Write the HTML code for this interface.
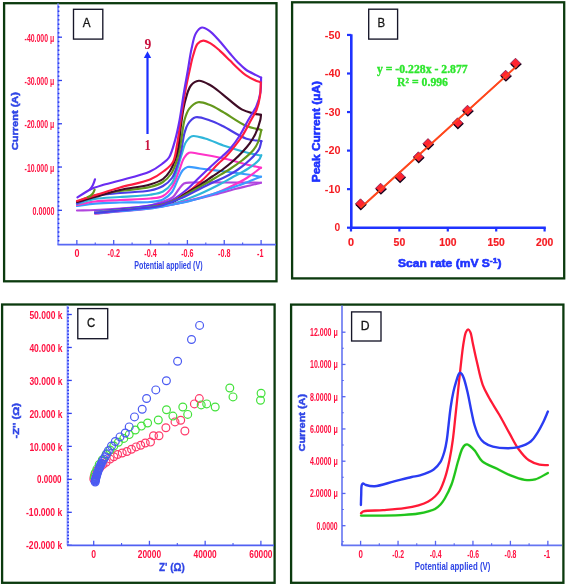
<!DOCTYPE html><html><head><meta charset="utf-8"><style>html,body{margin:0;padding:0;background:#fff;width:567px;height:586px;overflow:hidden}svg{display:block;will-change:transform}</style></head><body>
<svg width="567" height="586" viewBox="0 0 567 586">
<rect x="0" y="0" width="567" height="586" fill="#fff"/>
<rect x="4.10" y="3.20" width="272.40" height="278.10" fill="none" stroke="#0b3a0e" stroke-width="2.3"/>
<rect x="292.10" y="2.30" width="272.10" height="276.10" fill="none" stroke="#0b3a0e" stroke-width="2.3"/>
<rect x="2.10" y="304.50" width="272.50" height="278.30" fill="none" stroke="#0b3a0e" stroke-width="2.3"/>
<rect x="291.10" y="304.60" width="272.30" height="278.20" fill="none" stroke="#0b3a0e" stroke-width="2.3"/>
<line x1="58.10" y1="3.50" x2="58.10" y2="244.70" stroke="#8e9bff" stroke-width="2"/>
<rect x="57.80" y="6.19" width="1.6" height="1.4" fill="#2030f0"/>
<rect x="57.80" y="10.52" width="1.6" height="1.4" fill="#2030f0"/>
<rect x="57.80" y="14.85" width="1.6" height="1.4" fill="#2030f0"/>
<rect x="57.80" y="19.18" width="1.6" height="1.4" fill="#2030f0"/>
<rect x="57.80" y="23.51" width="1.6" height="1.4" fill="#2030f0"/>
<rect x="57.80" y="27.84" width="1.6" height="1.4" fill="#2030f0"/>
<rect x="57.80" y="32.17" width="1.6" height="1.4" fill="#2030f0"/>
<rect x="57.80" y="36.50" width="1.6" height="1.4" fill="#2030f0"/>
<rect x="57.80" y="40.83" width="1.6" height="1.4" fill="#2030f0"/>
<rect x="57.80" y="45.16" width="1.6" height="1.4" fill="#2030f0"/>
<rect x="57.80" y="49.49" width="1.6" height="1.4" fill="#2030f0"/>
<rect x="57.80" y="53.82" width="1.6" height="1.4" fill="#2030f0"/>
<rect x="57.80" y="58.15" width="1.6" height="1.4" fill="#2030f0"/>
<rect x="57.80" y="62.48" width="1.6" height="1.4" fill="#2030f0"/>
<rect x="57.80" y="66.81" width="1.6" height="1.4" fill="#2030f0"/>
<rect x="57.80" y="71.14" width="1.6" height="1.4" fill="#2030f0"/>
<rect x="57.80" y="75.47" width="1.6" height="1.4" fill="#2030f0"/>
<rect x="57.80" y="79.80" width="1.6" height="1.4" fill="#2030f0"/>
<rect x="57.80" y="84.13" width="1.6" height="1.4" fill="#2030f0"/>
<rect x="57.80" y="88.46" width="1.6" height="1.4" fill="#2030f0"/>
<rect x="57.80" y="92.79" width="1.6" height="1.4" fill="#2030f0"/>
<rect x="57.80" y="97.12" width="1.6" height="1.4" fill="#2030f0"/>
<rect x="57.80" y="101.45" width="1.6" height="1.4" fill="#2030f0"/>
<rect x="57.80" y="105.78" width="1.6" height="1.4" fill="#2030f0"/>
<rect x="57.80" y="110.11" width="1.6" height="1.4" fill="#2030f0"/>
<rect x="57.80" y="114.44" width="1.6" height="1.4" fill="#2030f0"/>
<rect x="57.80" y="118.77" width="1.6" height="1.4" fill="#2030f0"/>
<rect x="57.80" y="123.10" width="1.6" height="1.4" fill="#2030f0"/>
<rect x="57.80" y="127.43" width="1.6" height="1.4" fill="#2030f0"/>
<rect x="57.80" y="131.76" width="1.6" height="1.4" fill="#2030f0"/>
<rect x="57.80" y="136.09" width="1.6" height="1.4" fill="#2030f0"/>
<rect x="57.80" y="140.42" width="1.6" height="1.4" fill="#2030f0"/>
<rect x="57.80" y="144.75" width="1.6" height="1.4" fill="#2030f0"/>
<rect x="57.80" y="149.08" width="1.6" height="1.4" fill="#2030f0"/>
<rect x="57.80" y="153.41" width="1.6" height="1.4" fill="#2030f0"/>
<rect x="57.80" y="157.74" width="1.6" height="1.4" fill="#2030f0"/>
<rect x="57.80" y="162.07" width="1.6" height="1.4" fill="#2030f0"/>
<rect x="57.80" y="166.40" width="1.6" height="1.4" fill="#2030f0"/>
<rect x="57.80" y="170.73" width="1.6" height="1.4" fill="#2030f0"/>
<rect x="57.80" y="175.06" width="1.6" height="1.4" fill="#2030f0"/>
<rect x="57.80" y="179.39" width="1.6" height="1.4" fill="#2030f0"/>
<rect x="57.80" y="183.72" width="1.6" height="1.4" fill="#2030f0"/>
<rect x="57.80" y="188.05" width="1.6" height="1.4" fill="#2030f0"/>
<rect x="57.80" y="192.38" width="1.6" height="1.4" fill="#2030f0"/>
<rect x="57.80" y="196.71" width="1.6" height="1.4" fill="#2030f0"/>
<rect x="57.80" y="201.04" width="1.6" height="1.4" fill="#2030f0"/>
<rect x="57.80" y="205.37" width="1.6" height="1.4" fill="#2030f0"/>
<rect x="57.80" y="209.70" width="1.6" height="1.4" fill="#2030f0"/>
<rect x="57.80" y="214.03" width="1.6" height="1.4" fill="#2030f0"/>
<rect x="57.80" y="218.36" width="1.6" height="1.4" fill="#2030f0"/>
<rect x="57.80" y="222.69" width="1.6" height="1.4" fill="#2030f0"/>
<rect x="57.80" y="227.02" width="1.6" height="1.4" fill="#2030f0"/>
<rect x="57.80" y="231.35" width="1.6" height="1.4" fill="#2030f0"/>
<rect x="57.80" y="235.68" width="1.6" height="1.4" fill="#2030f0"/>
<rect x="57.80" y="240.01" width="1.6" height="1.4" fill="#2030f0"/>
<line x1="58.10" y1="37.20" x2="62" y2="37.20" stroke="#3040f0" stroke-width="1.3"/>
<line x1="58.10" y1="80.48" x2="62" y2="80.48" stroke="#3040f0" stroke-width="1.3"/>
<line x1="58.10" y1="123.76" x2="62" y2="123.76" stroke="#3040f0" stroke-width="1.3"/>
<line x1="58.10" y1="167.04" x2="62" y2="167.04" stroke="#3040f0" stroke-width="1.3"/>
<line x1="58.10" y1="210.32" x2="62" y2="210.32" stroke="#3040f0" stroke-width="1.3"/>
<line x1="57.5" y1="244.70" x2="276" y2="244.70" stroke="#5868f4" stroke-width="1.8"/>
<line x1="76.85" y1="244.70" x2="76.85" y2="240" stroke="#4a5af0" stroke-width="1.3"/>
<line x1="95.25" y1="244.70" x2="95.25" y2="242.5" stroke="#4a5af0" stroke-width="1.1"/>
<line x1="113.70" y1="244.70" x2="113.70" y2="240" stroke="#4a5af0" stroke-width="1.3"/>
<line x1="132.10" y1="244.70" x2="132.10" y2="242.5" stroke="#4a5af0" stroke-width="1.1"/>
<line x1="150.55" y1="244.70" x2="150.55" y2="240" stroke="#4a5af0" stroke-width="1.3"/>
<line x1="168.95" y1="244.70" x2="168.95" y2="242.5" stroke="#4a5af0" stroke-width="1.1"/>
<line x1="187.40" y1="244.70" x2="187.40" y2="240" stroke="#4a5af0" stroke-width="1.3"/>
<line x1="205.80" y1="244.70" x2="205.80" y2="242.5" stroke="#4a5af0" stroke-width="1.1"/>
<line x1="224.25" y1="244.70" x2="224.25" y2="240" stroke="#4a5af0" stroke-width="1.3"/>
<line x1="242.65" y1="244.70" x2="242.65" y2="242.5" stroke="#4a5af0" stroke-width="1.1"/>
<line x1="261.10" y1="244.70" x2="261.10" y2="240" stroke="#4a5af0" stroke-width="1.3"/>
<text x="24.60" y="41.70" font-size="11.50" font-weight="bold" font-family='"Liberation Sans", sans-serif' fill="#ff1040" textLength="29.60" lengthAdjust="spacingAndGlyphs">-40.000 μ</text>
<text x="24.60" y="84.98" font-size="11.50" font-weight="bold" font-family='"Liberation Sans", sans-serif' fill="#ff1040" textLength="29.60" lengthAdjust="spacingAndGlyphs">-30.000 μ</text>
<text x="24.60" y="128.26" font-size="11.50" font-weight="bold" font-family='"Liberation Sans", sans-serif' fill="#ff1040" textLength="29.60" lengthAdjust="spacingAndGlyphs">-20.000 μ</text>
<text x="24.60" y="171.54" font-size="11.50" font-weight="bold" font-family='"Liberation Sans", sans-serif' fill="#ff1040" textLength="29.60" lengthAdjust="spacingAndGlyphs">-10.000 μ</text>
<text x="32.60" y="214.90" font-size="11.50" font-weight="bold" font-family='"Liberation Sans", sans-serif' fill="#ff1040" textLength="21.80" lengthAdjust="spacingAndGlyphs">0.0000</text>
<text x="74.45" y="256.90" font-size="11.00" font-weight="bold" font-family='"Liberation Sans", sans-serif' fill="#ff1040" textLength="5.00" lengthAdjust="spacingAndGlyphs">0</text>
<text x="107.50" y="256.90" font-size="11.00" font-weight="bold" font-family='"Liberation Sans", sans-serif' fill="#ff1040" textLength="12.40" lengthAdjust="spacingAndGlyphs">-0.2</text>
<text x="144.35" y="256.90" font-size="11.00" font-weight="bold" font-family='"Liberation Sans", sans-serif' fill="#ff1040" textLength="12.40" lengthAdjust="spacingAndGlyphs">-0.4</text>
<text x="181.20" y="256.90" font-size="11.00" font-weight="bold" font-family='"Liberation Sans", sans-serif' fill="#ff1040" textLength="12.40" lengthAdjust="spacingAndGlyphs">-0.6</text>
<text x="218.05" y="256.90" font-size="11.00" font-weight="bold" font-family='"Liberation Sans", sans-serif' fill="#ff1040" textLength="12.40" lengthAdjust="spacingAndGlyphs">-0.8</text>
<text x="257.10" y="256.90" font-size="11.00" font-weight="bold" font-family='"Liberation Sans", sans-serif' fill="#ff1040" textLength="6.40" lengthAdjust="spacingAndGlyphs">-1</text>
<text x="134.30" y="268.90" font-size="11.20" font-weight="bold" font-family='"Liberation Sans", sans-serif' fill="#2f45e6" textLength="68.30" lengthAdjust="spacingAndGlyphs">Potential applied (V)</text>
<text transform="translate(18.10,150.20) rotate(-90)" x="0" y="0" font-size="9.90" font-weight="bold" font-family='"Liberation Sans", sans-serif' fill="#2f45e6" stroke="#2f45e6" stroke-width="0.50" textLength="58.20" lengthAdjust="spacingAndGlyphs">Current (A)</text>
<rect x="73.50" y="9.30" width="29.30" height="29.80" fill="#fff" stroke="#161628" stroke-width="1.35"/>
<text x="82.80" y="26.90" font-size="12.00" font-weight="normal" font-family='"Liberation Sans", sans-serif' fill="#161616" textLength="7.80" lengthAdjust="spacingAndGlyphs" stroke="#161616" stroke-width="0.30">A</text>
<line x1="147.5" y1="134" x2="147.5" y2="57" stroke="#1a2eff" stroke-width="2.2"/>
<path d="M147.5,51.2 L151.2,57.9 L143.8,57.9 Z" fill="#1a2eff"/>
<text x="144.60" y="48.60" font-size="14.50" font-weight="bold" font-family='"Liberation Serif", serif' fill="#c8123e" textLength="6.80" lengthAdjust="spacingAndGlyphs">9</text>
<text x="144.60" y="150.00" font-size="14.50" font-weight="bold" font-family='"Liberation Serif", serif' fill="#c8123e" textLength="6.20" lengthAdjust="spacingAndGlyphs">1</text>
<g fill="none" stroke-linejoin="round" stroke-linecap="round">
<path d="M77.00,210.50 C83.00,210.33 88.51,210.28 95.00,210.00 C102.65,209.66 111.29,209.20 120.00,208.50 C129.55,207.74 142.12,207.09 150.00,205.50 C155.29,204.43 159.04,202.96 163.00,201.50 C166.45,200.23 169.84,199.46 172.50,197.40 C175.19,195.31 176.93,191.47 179.00,189.00 C180.73,186.93 181.90,184.59 184.00,183.50 C186.19,182.36 188.42,182.72 192.00,182.50 C199.25,182.05 213.76,182.47 225.00,182.50 C236.74,182.53 249.00,182.63 261.00,182.70" stroke="#b145de" stroke-width="2.15"/>
<path d="M77.00,206.00 C83.00,205.20 88.49,204.18 95.00,203.60 C102.64,202.92 111.29,202.76 120.00,202.50 C129.54,202.21 142.09,202.82 150.00,202.00 C155.25,201.46 159.26,201.27 163.00,199.50 C166.52,197.83 169.57,195.17 172.00,192.00 C174.69,188.49 176.02,182.90 178.00,179.00 C179.68,175.69 181.10,172.06 183.00,170.00 C184.38,168.51 185.51,167.47 187.50,167.00 C190.53,166.28 195.12,167.91 200.00,168.50 C206.90,169.33 216.89,170.47 225.00,171.50 C232.70,172.48 240.96,173.53 247.50,174.50 C252.58,175.25 256.50,175.97 261.00,176.70" stroke="#3b9cff" stroke-width="2.15"/>
<path d="M77.00,205.00 C83.00,203.83 88.48,202.33 95.00,201.50 C102.62,200.53 111.29,200.48 120.00,200.00 C129.54,199.48 142.09,199.45 150.00,198.50 C155.25,197.87 159.31,197.96 163.00,196.00 C166.62,194.08 169.46,190.72 172.00,187.00 C174.97,182.65 176.91,176.08 179.00,171.00 C180.86,166.46 181.96,161.24 184.00,158.00 C185.47,155.66 186.75,153.52 189.00,152.70 C191.78,151.69 195.60,153.33 200.00,154.00 C206.66,155.02 216.92,156.87 225.00,158.70 C232.73,160.46 240.94,163.10 247.50,164.70 C252.56,165.94 256.50,166.70 261.00,167.70" stroke="#ff33c8" stroke-width="2.15"/>
<path d="M77.00,204.00 C83.00,202.33 88.45,200.16 95.00,199.00 C102.59,197.65 111.29,197.68 120.00,197.00 C129.54,196.25 142.10,195.97 150.00,194.70 C155.27,193.86 159.29,193.52 163.00,191.50 C166.57,189.55 169.69,186.44 172.00,183.00 C174.45,179.35 175.46,174.52 177.00,170.00 C178.64,165.21 179.95,159.81 181.50,155.00 C182.95,150.50 183.90,145.29 186.00,142.00 C187.64,139.44 189.36,137.01 192.00,136.20 C195.32,135.18 200.27,137.21 205.00,138.50 C211.02,140.15 218.10,143.68 225.00,146.00 C232.24,148.43 240.93,150.99 247.50,152.70 C252.55,154.01 256.50,154.70 261.00,155.70" stroke="#2fb6da" stroke-width="2.15"/>
<path d="M77.00,203.50 C83.00,201.00 88.38,197.74 95.00,196.00 C102.53,194.02 111.28,193.89 120.00,193.00 C129.54,192.03 142.14,192.16 150.00,190.50 C155.31,189.38 159.25,188.20 163.00,186.00 C166.51,183.94 169.68,181.25 172.00,178.00 C174.41,174.63 175.52,170.34 177.00,166.00 C178.67,161.10 180.06,155.44 181.30,150.00 C182.57,144.44 183.15,137.72 184.50,133.00 C185.51,129.47 186.19,126.60 188.00,124.00 C189.86,121.34 192.41,118.12 195.60,117.30 C199.45,116.31 205.43,119.01 210.00,120.50 C214.41,121.94 217.79,123.67 222.60,126.00 C229.34,129.26 239.18,136.28 246.40,138.70 C251.84,140.53 256.47,140.30 261.50,141.10" stroke="#4b3ce6" stroke-width="2.15"/>
<path d="M77.40,201.80 C80.70,200.37 84.17,198.62 87.30,197.50 C89.99,196.53 91.67,196.06 95.00,195.30 C100.92,193.95 111.27,192.33 120.00,191.00 C129.53,189.55 142.15,189.00 150.00,187.00 C155.32,185.64 159.39,184.35 163.00,182.00 C166.25,179.89 168.85,177.10 171.00,174.00 C173.22,170.80 174.66,166.72 176.00,163.00 C177.31,159.39 178.13,155.76 179.00,152.00 C179.90,148.10 180.51,144.51 181.30,140.00 C182.32,134.19 182.88,125.65 184.50,120.00 C185.76,115.58 186.92,111.62 189.30,108.60 C191.52,105.78 194.69,102.88 198.00,102.20 C201.53,101.47 206.05,103.52 210.00,105.00 C214.25,106.60 217.78,108.97 222.60,111.70 C229.32,115.50 239.17,122.94 246.40,126.00 C251.83,128.29 256.47,128.67 261.50,130.00" stroke="#64981c" stroke-width="2.15"/>
<path d="M77.00,202.00 C83.00,200.33 88.51,198.81 95.00,197.00 C102.65,194.87 111.24,192.03 120.00,190.00 C129.50,187.80 142.16,186.85 150.00,184.50 C155.33,182.90 159.55,181.50 163.00,179.00 C166.00,176.83 168.04,174.04 170.00,171.00 C172.09,167.76 173.64,163.81 175.00,160.00 C176.38,156.14 177.30,152.68 178.20,148.00 C179.44,141.61 179.92,132.50 181.00,125.00 C182.04,117.78 182.78,110.54 184.50,103.80 C186.13,97.40 187.77,89.33 190.90,85.50 C193.06,82.86 195.87,81.06 198.80,80.80 C202.14,80.50 206.30,82.99 210.00,85.00 C214.24,87.30 218.00,90.78 222.60,94.30 C228.34,98.69 235.95,106.23 241.70,109.40 C245.70,111.60 249.35,112.36 252.80,113.30 C255.71,114.09 258.27,114.37 261.00,114.90" stroke="#3f0c26" stroke-width="2.15"/>
<path d="M77.00,201.00 C83.43,198.97 89.53,197.03 96.30,194.90 C103.79,192.55 111.61,189.91 120.00,187.50 C129.38,184.80 142.08,182.99 150.00,179.60 C155.77,177.13 160.02,174.12 164.00,171.00 C167.45,168.29 170.67,166.07 172.80,162.30 C175.36,157.78 175.77,151.33 177.00,145.00 C178.47,137.46 179.36,128.71 180.70,120.00 C182.17,110.45 183.84,98.97 185.50,90.00 C186.86,82.64 188.32,76.15 189.70,70.00 C190.88,64.72 191.79,59.86 193.20,55.30 C194.47,51.19 195.49,46.26 197.60,43.80 C199.13,42.02 201.15,40.75 203.20,40.60 C205.53,40.43 208.36,42.14 210.90,43.60 C213.87,45.31 216.72,47.98 219.70,50.60 C223.07,53.56 226.79,57.46 230.00,60.60 C232.84,63.38 235.31,66.03 238.00,68.50 C240.55,70.85 242.83,73.12 245.70,75.10 C248.78,77.23 253.17,79.47 256.00,80.70 C257.86,81.51 259.20,81.77 260.80,82.30" stroke="#ff1c40" stroke-width="2.15"/>
<path d="M77.40,197.30 C79.43,196.03 81.46,194.76 83.50,193.50 C85.56,192.23 87.85,190.65 89.70,189.70 C91.09,188.99 91.97,188.68 93.50,188.10 C95.76,187.24 98.62,186.22 102.00,185.20 C106.87,183.74 113.26,182.39 120.00,180.50 C128.75,178.05 142.42,174.93 150.00,171.50 C155.09,169.19 158.64,166.58 162.00,164.00 C164.76,161.88 167.01,160.55 169.00,157.50 C171.84,153.14 173.63,145.26 175.40,139.00 C177.16,132.76 178.28,126.97 179.60,120.00 C181.19,111.59 182.53,100.76 184.00,92.00 C185.30,84.22 186.63,77.24 187.90,70.00 C189.13,62.95 190.05,55.56 191.50,49.10 C192.78,43.40 193.62,36.96 195.90,33.20 C197.52,30.52 199.75,27.89 202.00,27.50 C204.17,27.13 206.66,28.94 209.10,30.60 C212.49,32.91 216.27,37.46 219.70,41.20 C223.25,45.07 226.76,49.74 230.00,53.50 C232.81,56.76 235.28,59.75 238.00,62.50 C240.52,65.05 242.81,67.45 245.70,69.50 C248.77,71.68 253.15,73.63 256.00,75.10 C257.98,76.12 259.40,76.77 261.10,77.60" stroke="#6a2cf2" stroke-width="2.15"/>
<path d="M261.10,77.60 C260.90,82.40 261.26,87.28 260.50,92.00 C259.73,96.75 258.44,101.45 256.50,106.00 C254.45,110.80 251.02,115.19 248.30,120.00 C245.46,125.02 242.85,130.68 239.80,135.50 C236.93,140.04 233.40,144.88 230.60,148.20 C228.60,150.57 227.01,152.01 225.00,153.90 C222.83,155.94 220.85,157.44 218.00,160.00 C213.37,164.17 205.71,171.33 200.00,176.70 C194.75,181.63 190.19,186.85 185.00,191.00 C180.16,194.87 175.61,198.60 170.00,201.00 C164.02,203.56 157.38,204.24 150.00,205.50 C141.05,207.03 129.55,207.97 120.00,209.00 C111.29,209.94 103.33,210.67 95.00,211.50" stroke="#6a2cf2" stroke-width="2.15"/>
<path d="M260.80,82.30 C260.53,86.87 260.70,91.44 260.00,96.00 C259.29,100.67 258.12,105.82 256.50,110.00 C255.06,113.71 253.11,116.31 251.10,120.00 C248.59,124.61 245.79,130.56 242.60,135.50 C239.42,140.43 235.24,145.63 232.00,149.60 C229.49,152.67 227.35,155.10 225.00,157.50 C222.85,159.70 221.10,160.96 218.50,163.50 C214.30,167.60 208.12,174.89 202.50,180.00 C196.95,185.05 190.76,190.10 185.00,194.00 C179.95,197.42 175.53,200.36 170.00,202.50 C163.97,204.83 157.37,205.68 150.00,207.00 C141.04,208.60 129.55,209.89 120.00,211.00 C111.30,212.02 103.33,212.67 95.00,213.50" stroke="#ff1c40" stroke-width="2.15"/>
<path d="M261.00,114.90 C260.77,116.60 260.81,117.91 260.30,120.00 C259.43,123.56 257.26,129.99 255.30,134.10 C253.64,137.59 251.80,140.38 249.70,143.30 C247.57,146.25 245.13,148.96 242.60,151.70 C239.98,154.54 237.33,157.18 234.20,160.00 C230.58,163.26 225.90,167.10 222.00,170.00 C218.64,172.49 215.72,174.18 212.30,176.50 C208.43,179.13 204.35,182.20 200.00,185.00 C195.29,188.03 189.98,190.93 185.00,194.00 C179.98,197.09 175.60,201.34 170.00,203.50 C164.02,205.81 157.36,205.99 150.00,207.00 C141.03,208.23 129.54,209.05 120.00,210.00 C111.29,210.87 103.33,211.67 95.00,212.50" stroke="#3f0c26" stroke-width="2.15"/>
<path d="M261.30,155.20 C260.50,156.80 260.27,158.32 258.90,160.00 C256.64,162.77 251.72,166.21 247.50,169.00 C242.84,172.08 237.08,174.71 232.00,177.50 C227.08,180.20 222.91,182.75 217.50,185.50 C210.87,188.87 202.79,192.87 195.00,196.00 C186.97,199.23 177.96,202.67 170.00,204.50 C163.05,206.10 157.35,206.17 150.00,207.00 C141.02,208.01 129.55,209.14 120.00,210.00 C111.29,210.78 103.33,211.33 95.00,212.00" stroke="#2fb6da" stroke-width="2.15"/>
<path d="M261.00,167.70 C256.50,170.97 252.26,174.49 247.50,177.50 C242.60,180.60 237.13,183.45 232.00,186.00 C227.13,188.42 222.94,190.51 217.50,192.50 C210.89,194.92 202.72,196.96 195.00,199.00 C186.91,201.14 177.90,203.46 170.00,205.00 C162.99,206.36 157.36,207.14 150.00,208.00 C141.03,209.05 129.55,209.72 120.00,210.50 C111.29,211.21 103.33,211.83 95.00,212.50" stroke="#ff33c8" stroke-width="2.15"/>
<path d="M261.00,182.70 C257.33,183.63 253.96,184.54 250.00,185.50 C245.39,186.62 240.34,187.64 235.00,189.00 C228.80,190.58 221.68,192.75 215.00,194.50 C208.34,196.25 201.68,197.91 195.00,199.50 C188.34,201.08 182.05,202.57 175.00,204.00 C167.15,205.59 158.74,207.28 150.00,208.50 C140.48,209.83 129.55,210.64 120.00,211.50 C111.29,212.28 103.33,212.83 95.00,213.50" stroke="#b145de" stroke-width="2.15"/>
<path d="M261.30,130.30 C260.27,134.17 259.66,138.43 258.20,141.90 C256.88,145.03 255.43,147.56 253.20,150.30 C250.50,153.62 246.38,156.94 242.60,160.00 C238.67,163.18 234.44,166.09 230.00,169.00 C225.28,172.10 219.49,175.30 215.00,178.00 C211.33,180.20 208.35,182.07 205.00,184.00 C201.68,185.91 198.66,187.45 195.00,189.50 C190.50,192.01 185.08,195.56 180.00,198.00 C175.08,200.37 170.06,202.41 165.00,204.00 C160.06,205.56 155.90,206.52 150.00,207.50 C141.75,208.87 129.54,209.55 120.00,210.50 C111.29,211.37 103.33,212.17 95.00,213.00" stroke="#64981c" stroke-width="2.15"/>
<path d="M261.00,176.70 C257.33,178.13 253.58,179.59 250.00,181.00 C246.58,182.35 243.69,183.65 240.00,185.00 C235.53,186.64 230.00,188.33 225.00,190.00 C220.00,191.67 215.37,193.30 210.00,195.00 C203.83,196.95 196.71,199.33 190.00,201.00 C183.37,202.65 176.67,203.75 170.00,205.00 C163.34,206.25 157.36,207.55 150.00,208.50 C141.03,209.66 129.55,210.22 120.00,211.00 C111.29,211.71 103.33,212.33 95.00,213.00" stroke="#3b9cff" stroke-width="2.15"/>
<path d="M261.30,141.50 C260.50,144.20 260.40,146.90 258.90,149.60 C256.98,153.06 253.10,156.74 249.70,160.00 C246.16,163.39 242.12,166.66 238.00,169.50 C233.89,172.33 229.10,174.90 225.00,177.00 C221.50,178.79 218.51,179.87 215.00,181.50 C211.05,183.33 207.00,185.26 202.50,187.50 C197.14,190.16 190.67,193.92 185.00,196.50 C179.86,198.84 174.51,200.81 170.00,202.50 C166.35,203.87 163.96,205.07 160.00,206.00 C154.53,207.28 146.67,207.75 140.00,208.50 C133.34,209.25 127.04,209.80 120.00,210.50 C112.13,211.29 103.33,212.17 95.00,213.00" stroke="#4b3ce6" stroke-width="2.15"/>
<path d="M89.7,189.7 Q93,186.5 95,179.3" stroke="#6a2cf2" stroke-width="2.2"/>
<path d="M88,197 Q93,195 94.6,189.7" stroke="#64981c" stroke-width="2.2"/>
</g>
<line x1="351.3" y1="34.3" x2="351.3" y2="229" stroke="#1f33ff" stroke-width="2.6"/>
<line x1="350" y1="227.7" x2="545.8" y2="227.7" stroke="#1f33ff" stroke-width="2.6"/>
<line x1="347" y1="227.70" x2="351.3" y2="227.70" stroke="#1f33ff" stroke-width="2.2"/>
<text x="334.60" y="231.00" font-size="10.30" font-weight="bold" font-family='"Liberation Sans", sans-serif' fill="#f51c22" textLength="5.70" lengthAdjust="spacingAndGlyphs">0</text>
<line x1="347" y1="189.15" x2="351.3" y2="189.15" stroke="#1f33ff" stroke-width="2.2"/>
<text x="324.80" y="192.95" font-size="10.30" font-weight="bold" font-family='"Liberation Sans", sans-serif' fill="#f51c22" textLength="15.70" lengthAdjust="spacingAndGlyphs">-10</text>
<line x1="347" y1="150.60" x2="351.3" y2="150.60" stroke="#1f33ff" stroke-width="2.2"/>
<text x="324.80" y="154.40" font-size="10.30" font-weight="bold" font-family='"Liberation Sans", sans-serif' fill="#f51c22" textLength="15.70" lengthAdjust="spacingAndGlyphs">-20</text>
<line x1="347" y1="112.05" x2="351.3" y2="112.05" stroke="#1f33ff" stroke-width="2.2"/>
<text x="324.80" y="115.85" font-size="10.30" font-weight="bold" font-family='"Liberation Sans", sans-serif' fill="#f51c22" textLength="15.70" lengthAdjust="spacingAndGlyphs">-30</text>
<line x1="347" y1="73.50" x2="351.3" y2="73.50" stroke="#1f33ff" stroke-width="2.2"/>
<text x="324.80" y="77.30" font-size="10.30" font-weight="bold" font-family='"Liberation Sans", sans-serif' fill="#f51c22" textLength="15.70" lengthAdjust="spacingAndGlyphs">-40</text>
<line x1="347" y1="34.95" x2="351.3" y2="34.95" stroke="#1f33ff" stroke-width="2.2"/>
<text x="324.80" y="38.75" font-size="10.30" font-weight="bold" font-family='"Liberation Sans", sans-serif' fill="#f51c22" textLength="15.70" lengthAdjust="spacingAndGlyphs">-50</text>
<line x1="351.00" y1="227.7" x2="351.00" y2="231.5" stroke="#1f33ff" stroke-width="2.2"/>
<text x="348.00" y="246.30" font-size="10.00" font-weight="bold" font-family='"Liberation Sans", sans-serif' fill="#f51c22" textLength="6.00" lengthAdjust="spacingAndGlyphs" stroke="#f51c22" stroke-width="0.20">0</text>
<line x1="399.40" y1="227.7" x2="399.40" y2="231.5" stroke="#1f33ff" stroke-width="2.2"/>
<text x="393.60" y="246.30" font-size="10.00" font-weight="bold" font-family='"Liberation Sans", sans-serif' fill="#f51c22" textLength="11.60" lengthAdjust="spacingAndGlyphs" stroke="#f51c22" stroke-width="0.20">50</text>
<line x1="447.80" y1="227.7" x2="447.80" y2="231.5" stroke="#1f33ff" stroke-width="2.2"/>
<text x="439.20" y="246.30" font-size="10.00" font-weight="bold" font-family='"Liberation Sans", sans-serif' fill="#f51c22" textLength="17.20" lengthAdjust="spacingAndGlyphs" stroke="#f51c22" stroke-width="0.20">100</text>
<line x1="496.20" y1="227.7" x2="496.20" y2="231.5" stroke="#1f33ff" stroke-width="2.2"/>
<text x="487.60" y="246.30" font-size="10.00" font-weight="bold" font-family='"Liberation Sans", sans-serif' fill="#f51c22" textLength="17.20" lengthAdjust="spacingAndGlyphs" stroke="#f51c22" stroke-width="0.20">150</text>
<line x1="544.60" y1="227.7" x2="544.60" y2="231.5" stroke="#1f33ff" stroke-width="2.2"/>
<text x="536.00" y="246.30" font-size="10.00" font-weight="bold" font-family='"Liberation Sans", sans-serif' fill="#f51c22" textLength="17.20" lengthAdjust="spacingAndGlyphs" stroke="#f51c22" stroke-width="0.20">200</text>
<text transform="translate(320.30,182.20) rotate(-90)" x="0" y="0" font-size="10.00" font-weight="bold" font-family='"Liberation Sans", sans-serif' fill="#1f33ff" stroke="#1f33ff" stroke-width="0.55" textLength="101.20" lengthAdjust="spacingAndGlyphs">Peak Current (μA)</text>
<text x="398" y="266.6" font-size="10.6" font-weight="bold" font-family='"Liberation Sans", sans-serif' fill="#1f33ff" stroke="#1f33ff" stroke-width="0.55" textLength="103.5" lengthAdjust="spacingAndGlyphs">Scan rate (mV S<tspan dy="-4" font-size="7.5">-1</tspan><tspan dy="4">)</tspan></text>
<rect x="368.70" y="9.20" width="28.90" height="29.90" fill="#fff" stroke="#161628" stroke-width="1.35"/>
<text x="377.60" y="26.90" font-size="12.20" font-weight="normal" font-family='"Liberation Sans", sans-serif' fill="#161616" textLength="7.60" lengthAdjust="spacingAndGlyphs" stroke="#161616" stroke-width="0.30">B</text>
<line x1="360.70" y1="207.79" x2="517.00" y2="65.87" stroke="#ff4020" stroke-width="1.9"/>
<path d="M360.50,198.80 L365.70,204.00 L360.50,209.20 L355.30,204.00 Z" fill="#ff2430" stroke="#7a1650" stroke-width="0.8"/>
<path d="M355.90,204.60 L360.80,209.50 L366.30,204.30" fill="none" stroke="#1a0018" stroke-width="1.3"/>
<path d="M380.60,183.20 L385.80,188.40 L380.60,193.60 L375.40,188.40 Z" fill="#ff2430" stroke="#7a1650" stroke-width="0.8"/>
<path d="M376.00,189.00 L380.90,193.90 L386.40,188.70" fill="none" stroke="#1a0018" stroke-width="1.3"/>
<path d="M399.80,171.60 L405.00,176.80 L399.80,182.00 L394.60,176.80 Z" fill="#ff2430" stroke="#7a1650" stroke-width="0.8"/>
<path d="M395.20,177.40 L400.10,182.30 L405.60,177.10" fill="none" stroke="#1a0018" stroke-width="1.3"/>
<path d="M418.40,151.80 L423.60,157.00 L418.40,162.20 L413.20,157.00 Z" fill="#ff2430" stroke="#7a1650" stroke-width="0.8"/>
<path d="M413.80,157.60 L418.70,162.50 L424.20,157.30" fill="none" stroke="#1a0018" stroke-width="1.3"/>
<path d="M428.00,138.60 L433.20,143.80 L428.00,149.00 L422.80,143.80 Z" fill="#ff2430" stroke="#7a1650" stroke-width="0.8"/>
<path d="M423.40,144.40 L428.30,149.30 L433.80,144.10" fill="none" stroke="#1a0018" stroke-width="1.3"/>
<path d="M457.60,117.80 L462.80,123.00 L457.60,128.20 L452.40,123.00 Z" fill="#ff2430" stroke="#7a1650" stroke-width="0.8"/>
<path d="M453.00,123.60 L457.90,128.50 L463.40,123.30" fill="none" stroke="#1a0018" stroke-width="1.3"/>
<path d="M467.50,105.20 L472.70,110.40 L467.50,115.60 L462.30,110.40 Z" fill="#ff2430" stroke="#7a1650" stroke-width="0.8"/>
<path d="M462.90,111.00 L467.80,115.90 L473.30,110.70" fill="none" stroke="#1a0018" stroke-width="1.3"/>
<path d="M505.60,70.20 L510.80,75.40 L505.60,80.60 L500.40,75.40 Z" fill="#ff2430" stroke="#7a1650" stroke-width="0.8"/>
<path d="M501.00,76.00 L505.90,80.90 L511.40,75.70" fill="none" stroke="#1a0018" stroke-width="1.3"/>
<path d="M515.50,58.20 L520.70,63.40 L515.50,68.60 L510.30,63.40 Z" fill="#ff2430" stroke="#7a1650" stroke-width="0.8"/>
<path d="M510.90,64.00 L515.80,68.90 L521.30,63.70" fill="none" stroke="#1a0018" stroke-width="1.3"/>
<line x1="360.70" y1="207.79" x2="517.00" y2="65.87" stroke="#ff4a1a" stroke-width="1.6" opacity="0.85"/>
<text x="376.90" y="72.90" font-size="12.60" font-weight="bold" font-family='"Liberation Serif", serif' fill="#2ee62e" textLength="90.80" lengthAdjust="spacingAndGlyphs" stroke="#2ee62e" stroke-width="0.35">y = -0.228x - 2.877</text>
<text x="397" y="85.5" font-size="12.6" font-weight="bold" font-family='"Liberation Serif", serif' fill="#2ee62e" stroke="#2ee62e" stroke-width="0.35" textLength="51" lengthAdjust="spacingAndGlyphs">R² = 0.996</text>
<line x1="67.60" y1="305.50" x2="67.60" y2="545.30" stroke="#8e9bff" stroke-width="2"/>
<rect x="67.30" y="307.21" width="1.6" height="1.4" fill="#2030f0"/>
<rect x="67.30" y="310.50" width="1.6" height="1.4" fill="#2030f0"/>
<rect x="67.30" y="313.80" width="1.6" height="1.4" fill="#2030f0"/>
<rect x="67.30" y="317.10" width="1.6" height="1.4" fill="#2030f0"/>
<rect x="67.30" y="320.39" width="1.6" height="1.4" fill="#2030f0"/>
<rect x="67.30" y="323.69" width="1.6" height="1.4" fill="#2030f0"/>
<rect x="67.30" y="326.99" width="1.6" height="1.4" fill="#2030f0"/>
<rect x="67.30" y="330.29" width="1.6" height="1.4" fill="#2030f0"/>
<rect x="67.30" y="333.58" width="1.6" height="1.4" fill="#2030f0"/>
<rect x="67.30" y="336.88" width="1.6" height="1.4" fill="#2030f0"/>
<rect x="67.30" y="340.18" width="1.6" height="1.4" fill="#2030f0"/>
<rect x="67.30" y="343.47" width="1.6" height="1.4" fill="#2030f0"/>
<rect x="67.30" y="346.77" width="1.6" height="1.4" fill="#2030f0"/>
<rect x="67.30" y="350.07" width="1.6" height="1.4" fill="#2030f0"/>
<rect x="67.30" y="353.36" width="1.6" height="1.4" fill="#2030f0"/>
<rect x="67.30" y="356.66" width="1.6" height="1.4" fill="#2030f0"/>
<rect x="67.30" y="359.96" width="1.6" height="1.4" fill="#2030f0"/>
<rect x="67.30" y="363.26" width="1.6" height="1.4" fill="#2030f0"/>
<rect x="67.30" y="366.55" width="1.6" height="1.4" fill="#2030f0"/>
<rect x="67.30" y="369.85" width="1.6" height="1.4" fill="#2030f0"/>
<rect x="67.30" y="373.15" width="1.6" height="1.4" fill="#2030f0"/>
<rect x="67.30" y="376.44" width="1.6" height="1.4" fill="#2030f0"/>
<rect x="67.30" y="379.74" width="1.6" height="1.4" fill="#2030f0"/>
<rect x="67.30" y="383.04" width="1.6" height="1.4" fill="#2030f0"/>
<rect x="67.30" y="386.33" width="1.6" height="1.4" fill="#2030f0"/>
<rect x="67.30" y="389.63" width="1.6" height="1.4" fill="#2030f0"/>
<rect x="67.30" y="392.93" width="1.6" height="1.4" fill="#2030f0"/>
<rect x="67.30" y="396.23" width="1.6" height="1.4" fill="#2030f0"/>
<rect x="67.30" y="399.52" width="1.6" height="1.4" fill="#2030f0"/>
<rect x="67.30" y="402.82" width="1.6" height="1.4" fill="#2030f0"/>
<rect x="67.30" y="406.12" width="1.6" height="1.4" fill="#2030f0"/>
<rect x="67.30" y="409.41" width="1.6" height="1.4" fill="#2030f0"/>
<rect x="67.30" y="412.71" width="1.6" height="1.4" fill="#2030f0"/>
<rect x="67.30" y="416.01" width="1.6" height="1.4" fill="#2030f0"/>
<rect x="67.30" y="419.30" width="1.6" height="1.4" fill="#2030f0"/>
<rect x="67.30" y="422.60" width="1.6" height="1.4" fill="#2030f0"/>
<rect x="67.30" y="425.90" width="1.6" height="1.4" fill="#2030f0"/>
<rect x="67.30" y="429.20" width="1.6" height="1.4" fill="#2030f0"/>
<rect x="67.30" y="432.49" width="1.6" height="1.4" fill="#2030f0"/>
<rect x="67.30" y="435.79" width="1.6" height="1.4" fill="#2030f0"/>
<rect x="67.30" y="439.09" width="1.6" height="1.4" fill="#2030f0"/>
<rect x="67.30" y="442.38" width="1.6" height="1.4" fill="#2030f0"/>
<rect x="67.30" y="445.68" width="1.6" height="1.4" fill="#2030f0"/>
<rect x="67.30" y="448.98" width="1.6" height="1.4" fill="#2030f0"/>
<rect x="67.30" y="452.27" width="1.6" height="1.4" fill="#2030f0"/>
<rect x="67.30" y="455.57" width="1.6" height="1.4" fill="#2030f0"/>
<rect x="67.30" y="458.87" width="1.6" height="1.4" fill="#2030f0"/>
<rect x="67.30" y="462.17" width="1.6" height="1.4" fill="#2030f0"/>
<rect x="67.30" y="465.46" width="1.6" height="1.4" fill="#2030f0"/>
<rect x="67.30" y="468.76" width="1.6" height="1.4" fill="#2030f0"/>
<rect x="67.30" y="472.06" width="1.6" height="1.4" fill="#2030f0"/>
<rect x="67.30" y="475.35" width="1.6" height="1.4" fill="#2030f0"/>
<rect x="67.30" y="478.65" width="1.6" height="1.4" fill="#2030f0"/>
<rect x="67.30" y="481.95" width="1.6" height="1.4" fill="#2030f0"/>
<rect x="67.30" y="485.24" width="1.6" height="1.4" fill="#2030f0"/>
<rect x="67.30" y="488.54" width="1.6" height="1.4" fill="#2030f0"/>
<rect x="67.30" y="491.84" width="1.6" height="1.4" fill="#2030f0"/>
<rect x="67.30" y="495.14" width="1.6" height="1.4" fill="#2030f0"/>
<rect x="67.30" y="498.43" width="1.6" height="1.4" fill="#2030f0"/>
<rect x="67.30" y="501.73" width="1.6" height="1.4" fill="#2030f0"/>
<rect x="67.30" y="505.03" width="1.6" height="1.4" fill="#2030f0"/>
<rect x="67.30" y="508.32" width="1.6" height="1.4" fill="#2030f0"/>
<rect x="67.30" y="511.62" width="1.6" height="1.4" fill="#2030f0"/>
<rect x="67.30" y="514.92" width="1.6" height="1.4" fill="#2030f0"/>
<rect x="67.30" y="518.21" width="1.6" height="1.4" fill="#2030f0"/>
<rect x="67.30" y="521.51" width="1.6" height="1.4" fill="#2030f0"/>
<rect x="67.30" y="524.81" width="1.6" height="1.4" fill="#2030f0"/>
<rect x="67.30" y="528.11" width="1.6" height="1.4" fill="#2030f0"/>
<rect x="67.30" y="531.40" width="1.6" height="1.4" fill="#2030f0"/>
<rect x="67.30" y="534.70" width="1.6" height="1.4" fill="#2030f0"/>
<rect x="67.30" y="538.00" width="1.6" height="1.4" fill="#2030f0"/>
<rect x="67.30" y="541.29" width="1.6" height="1.4" fill="#2030f0"/>
<rect x="67.30" y="544.59" width="1.6" height="1.4" fill="#2030f0"/>
<line x1="67.60" y1="314.50" x2="71.8" y2="314.50" stroke="#3040f0" stroke-width="1.3"/>
<line x1="67.60" y1="347.47" x2="71.8" y2="347.47" stroke="#3040f0" stroke-width="1.3"/>
<line x1="67.60" y1="380.44" x2="71.8" y2="380.44" stroke="#3040f0" stroke-width="1.3"/>
<line x1="67.60" y1="413.41" x2="71.8" y2="413.41" stroke="#3040f0" stroke-width="1.3"/>
<line x1="67.60" y1="446.38" x2="71.8" y2="446.38" stroke="#3040f0" stroke-width="1.3"/>
<line x1="67.60" y1="479.35" x2="71.8" y2="479.35" stroke="#3040f0" stroke-width="1.3"/>
<line x1="67.60" y1="512.32" x2="71.8" y2="512.32" stroke="#3040f0" stroke-width="1.3"/>
<line x1="67.60" y1="545.29" x2="71.8" y2="545.29" stroke="#3040f0" stroke-width="1.3"/>
<line x1="67" y1="545.30" x2="274" y2="545.30" stroke="#5060f2" stroke-width="1.8"/>
<line x1="93.70" y1="545.30" x2="93.70" y2="540.8" stroke="#4a5af0" stroke-width="1.3"/>
<line x1="121.57" y1="545.30" x2="121.57" y2="543" stroke="#4a5af0" stroke-width="1.1"/>
<line x1="149.43" y1="545.30" x2="149.43" y2="540.8" stroke="#4a5af0" stroke-width="1.3"/>
<line x1="177.30" y1="545.30" x2="177.30" y2="543" stroke="#4a5af0" stroke-width="1.1"/>
<line x1="205.16" y1="545.30" x2="205.16" y2="540.8" stroke="#4a5af0" stroke-width="1.3"/>
<line x1="233.03" y1="545.30" x2="233.03" y2="543" stroke="#4a5af0" stroke-width="1.1"/>
<line x1="260.89" y1="545.30" x2="260.89" y2="540.8" stroke="#4a5af0" stroke-width="1.3"/>
<text x="29.40" y="319.00" font-size="11.00" font-weight="bold" font-family='"Liberation Sans", sans-serif' fill="#ff1040" textLength="33.10" lengthAdjust="spacingAndGlyphs">50.000 k</text>
<text x="29.40" y="351.97" font-size="11.00" font-weight="bold" font-family='"Liberation Sans", sans-serif' fill="#ff1040" textLength="33.10" lengthAdjust="spacingAndGlyphs">40.000 k</text>
<text x="29.40" y="384.94" font-size="11.00" font-weight="bold" font-family='"Liberation Sans", sans-serif' fill="#ff1040" textLength="33.10" lengthAdjust="spacingAndGlyphs">30.000 k</text>
<text x="29.40" y="417.91" font-size="11.00" font-weight="bold" font-family='"Liberation Sans", sans-serif' fill="#ff1040" textLength="33.10" lengthAdjust="spacingAndGlyphs">20.000 k</text>
<text x="29.40" y="450.88" font-size="11.00" font-weight="bold" font-family='"Liberation Sans", sans-serif' fill="#ff1040" textLength="33.10" lengthAdjust="spacingAndGlyphs">10.000 k</text>
<text x="37.00" y="483.35" font-size="11.00" font-weight="bold" font-family='"Liberation Sans", sans-serif' fill="#ff1040" textLength="24.60" lengthAdjust="spacingAndGlyphs">0.0000</text>
<text x="26.00" y="516.32" font-size="11.00" font-weight="bold" font-family='"Liberation Sans", sans-serif' fill="#ff1040" textLength="36.30" lengthAdjust="spacingAndGlyphs">-10.000 k</text>
<text x="26.00" y="549.29" font-size="11.00" font-weight="bold" font-family='"Liberation Sans", sans-serif' fill="#ff1040" textLength="36.30" lengthAdjust="spacingAndGlyphs">-20.000 k</text>
<text x="91.30" y="557.60" font-size="10.50" font-weight="bold" font-family='"Liberation Sans", sans-serif' fill="#ff1040" textLength="4.80" lengthAdjust="spacingAndGlyphs">0</text>
<text x="137.83" y="557.60" font-size="10.50" font-weight="bold" font-family='"Liberation Sans", sans-serif' fill="#ff1040" textLength="23.20" lengthAdjust="spacingAndGlyphs">20000</text>
<text x="193.56" y="557.60" font-size="10.50" font-weight="bold" font-family='"Liberation Sans", sans-serif' fill="#ff1040" textLength="23.20" lengthAdjust="spacingAndGlyphs">40000</text>
<text x="249.29" y="557.60" font-size="10.50" font-weight="bold" font-family='"Liberation Sans", sans-serif' fill="#ff1040" textLength="23.20" lengthAdjust="spacingAndGlyphs">60000</text>
<text x="159" y="570.5" font-size="11.5" font-weight="bold" font-family='"Liberation Sans", sans-serif' fill="#2f45e6" stroke="#2f45e6" stroke-width="0.3" textLength="25.8" lengthAdjust="spacingAndGlyphs">Z' (Ω)</text>
<text transform="translate(18.90,438.50) rotate(-90)" x="0" y="0" font-size="9.60" font-weight="bold" font-family='"Liberation Sans", sans-serif' fill="#2f45e6" stroke="#2f45e6" stroke-width="0.45" textLength="35.50" lengthAdjust="spacingAndGlyphs">-Z'' (Ω)</text>
<rect x="77.80" y="308.60" width="29.90" height="30.10" fill="#fff" stroke="#161628" stroke-width="1.35"/>
<text x="87.00" y="326.90" font-size="12.00" font-weight="normal" font-family='"Liberation Sans", sans-serif' fill="#161616" textLength="8.20" lengthAdjust="spacingAndGlyphs" stroke="#161616" stroke-width="0.30">C</text>
<circle cx="93.80" cy="479.00" r="3.9" fill="none" stroke="#ff3a6a" stroke-width="1.2"/>
<circle cx="94.20" cy="476.50" r="3.9" fill="none" stroke="#ff3a6a" stroke-width="1.2"/>
<circle cx="95.00" cy="474.00" r="3.9" fill="none" stroke="#ff3a6a" stroke-width="1.2"/>
<circle cx="96.90" cy="470.70" r="3.9" fill="none" stroke="#ff3a6a" stroke-width="1.2"/>
<circle cx="100.00" cy="467.60" r="3.9" fill="none" stroke="#ff3a6a" stroke-width="1.2"/>
<circle cx="103.00" cy="464.50" r="3.9" fill="none" stroke="#ff3a6a" stroke-width="1.2"/>
<circle cx="106.10" cy="462.20" r="3.9" fill="none" stroke="#ff3a6a" stroke-width="1.2"/>
<circle cx="110.00" cy="459.10" r="3.9" fill="none" stroke="#ff3a6a" stroke-width="1.2"/>
<circle cx="113.80" cy="456.80" r="3.9" fill="none" stroke="#ff3a6a" stroke-width="1.2"/>
<circle cx="117.60" cy="454.50" r="3.9" fill="none" stroke="#ff3a6a" stroke-width="1.2"/>
<circle cx="122.20" cy="453.00" r="3.9" fill="none" stroke="#ff3a6a" stroke-width="1.2"/>
<circle cx="126.90" cy="451.50" r="3.9" fill="none" stroke="#ff3a6a" stroke-width="1.2"/>
<circle cx="131.50" cy="449.20" r="3.9" fill="none" stroke="#ff3a6a" stroke-width="1.2"/>
<circle cx="136.10" cy="446.90" r="3.9" fill="none" stroke="#ff3a6a" stroke-width="1.2"/>
<circle cx="140.70" cy="445.30" r="3.9" fill="none" stroke="#ff3a6a" stroke-width="1.2"/>
<circle cx="145.30" cy="443.00" r="3.9" fill="none" stroke="#ff3a6a" stroke-width="1.2"/>
<circle cx="150.50" cy="442.10" r="3.9" fill="none" stroke="#ff3a6a" stroke-width="1.2"/>
<circle cx="153.50" cy="435.80" r="3.9" fill="none" stroke="#ff3a6a" stroke-width="1.2"/>
<circle cx="159.00" cy="435.80" r="3.9" fill="none" stroke="#ff3a6a" stroke-width="1.2"/>
<circle cx="165.90" cy="427.80" r="3.9" fill="none" stroke="#ff3a6a" stroke-width="1.2"/>
<circle cx="175.00" cy="421.90" r="3.9" fill="none" stroke="#ff3a6a" stroke-width="1.2"/>
<circle cx="180.70" cy="420.20" r="3.9" fill="none" stroke="#ff3a6a" stroke-width="1.2"/>
<circle cx="184.90" cy="431.00" r="3.9" fill="none" stroke="#ff3a6a" stroke-width="1.2"/>
<circle cx="194.40" cy="403.90" r="3.9" fill="none" stroke="#ff3a6a" stroke-width="1.2"/>
<circle cx="199.30" cy="398.60" r="3.9" fill="none" stroke="#ff3a6a" stroke-width="1.2"/>
<circle cx="94.30" cy="477.00" r="3.9" fill="none" stroke="#44e23c" stroke-width="1.2"/>
<circle cx="95.20" cy="473.00" r="3.9" fill="none" stroke="#44e23c" stroke-width="1.2"/>
<circle cx="96.90" cy="469.10" r="3.9" fill="none" stroke="#44e23c" stroke-width="1.2"/>
<circle cx="99.20" cy="464.50" r="3.9" fill="none" stroke="#44e23c" stroke-width="1.2"/>
<circle cx="102.30" cy="460.00" r="3.9" fill="none" stroke="#44e23c" stroke-width="1.2"/>
<circle cx="106.10" cy="454.50" r="3.9" fill="none" stroke="#44e23c" stroke-width="1.2"/>
<circle cx="110.00" cy="450.00" r="3.9" fill="none" stroke="#44e23c" stroke-width="1.2"/>
<circle cx="113.80" cy="446.00" r="3.9" fill="none" stroke="#44e23c" stroke-width="1.2"/>
<circle cx="118.40" cy="442.20" r="3.9" fill="none" stroke="#44e23c" stroke-width="1.2"/>
<circle cx="123.80" cy="438.40" r="3.9" fill="none" stroke="#44e23c" stroke-width="1.2"/>
<circle cx="129.20" cy="434.60" r="3.9" fill="none" stroke="#44e23c" stroke-width="1.2"/>
<circle cx="135.30" cy="430.00" r="3.9" fill="none" stroke="#44e23c" stroke-width="1.2"/>
<circle cx="141.40" cy="426.10" r="3.9" fill="none" stroke="#44e23c" stroke-width="1.2"/>
<circle cx="147.60" cy="423.00" r="3.9" fill="none" stroke="#44e23c" stroke-width="1.2"/>
<circle cx="158.30" cy="420.00" r="3.9" fill="none" stroke="#44e23c" stroke-width="1.2"/>
<circle cx="166.50" cy="409.80" r="3.9" fill="none" stroke="#44e23c" stroke-width="1.2"/>
<circle cx="172.90" cy="416.10" r="3.9" fill="none" stroke="#44e23c" stroke-width="1.2"/>
<circle cx="182.80" cy="407.00" r="3.9" fill="none" stroke="#44e23c" stroke-width="1.2"/>
<circle cx="187.70" cy="414.40" r="3.9" fill="none" stroke="#44e23c" stroke-width="1.2"/>
<circle cx="201.20" cy="404.90" r="3.9" fill="none" stroke="#44e23c" stroke-width="1.2"/>
<circle cx="206.70" cy="403.90" r="3.9" fill="none" stroke="#44e23c" stroke-width="1.2"/>
<circle cx="215.20" cy="407.00" r="3.9" fill="none" stroke="#44e23c" stroke-width="1.2"/>
<circle cx="229.80" cy="388.00" r="3.9" fill="none" stroke="#44e23c" stroke-width="1.2"/>
<circle cx="233.00" cy="396.90" r="3.9" fill="none" stroke="#44e23c" stroke-width="1.2"/>
<circle cx="261.10" cy="393.30" r="3.9" fill="none" stroke="#44e23c" stroke-width="1.2"/>
<circle cx="260.50" cy="400.30" r="3.9" fill="none" stroke="#44e23c" stroke-width="1.2"/>
<circle cx="95.20" cy="482.00" r="3.9" fill="none" stroke="#4a5af2" stroke-width="1.2"/>
<circle cx="95.00" cy="481.00" r="3.9" fill="none" stroke="#4a5af2" stroke-width="1.2"/>
<circle cx="95.40" cy="480.00" r="3.9" fill="none" stroke="#4a5af2" stroke-width="1.2"/>
<circle cx="95.60" cy="479.00" r="3.9" fill="none" stroke="#4a5af2" stroke-width="1.2"/>
<circle cx="96.10" cy="477.50" r="3.9" fill="none" stroke="#4a5af2" stroke-width="1.2"/>
<circle cx="96.80" cy="475.00" r="3.9" fill="none" stroke="#4a5af2" stroke-width="1.2"/>
<circle cx="97.70" cy="472.20" r="3.9" fill="none" stroke="#4a5af2" stroke-width="1.2"/>
<circle cx="98.80" cy="469.00" r="3.9" fill="none" stroke="#4a5af2" stroke-width="1.2"/>
<circle cx="100.00" cy="466.00" r="3.9" fill="none" stroke="#4a5af2" stroke-width="1.2"/>
<circle cx="101.20" cy="463.50" r="3.9" fill="none" stroke="#4a5af2" stroke-width="1.2"/>
<circle cx="102.30" cy="461.40" r="3.9" fill="none" stroke="#4a5af2" stroke-width="1.2"/>
<circle cx="103.80" cy="459.00" r="3.9" fill="none" stroke="#4a5af2" stroke-width="1.2"/>
<circle cx="105.30" cy="456.80" r="3.9" fill="none" stroke="#4a5af2" stroke-width="1.2"/>
<circle cx="106.80" cy="453.80" r="3.9" fill="none" stroke="#4a5af2" stroke-width="1.2"/>
<circle cx="108.40" cy="450.70" r="3.9" fill="none" stroke="#4a5af2" stroke-width="1.2"/>
<circle cx="111.50" cy="446.00" r="3.9" fill="none" stroke="#4a5af2" stroke-width="1.2"/>
<circle cx="115.30" cy="441.50" r="3.9" fill="none" stroke="#4a5af2" stroke-width="1.2"/>
<circle cx="120.00" cy="436.90" r="3.9" fill="none" stroke="#4a5af2" stroke-width="1.2"/>
<circle cx="125.30" cy="433.00" r="3.9" fill="none" stroke="#4a5af2" stroke-width="1.2"/>
<circle cx="129.20" cy="426.90" r="3.9" fill="none" stroke="#4a5af2" stroke-width="1.2"/>
<circle cx="134.50" cy="416.90" r="3.9" fill="none" stroke="#4a5af2" stroke-width="1.2"/>
<circle cx="142.20" cy="409.20" r="3.9" fill="none" stroke="#4a5af2" stroke-width="1.2"/>
<circle cx="146.60" cy="398.50" r="3.9" fill="none" stroke="#4a5af2" stroke-width="1.2"/>
<circle cx="155.80" cy="389.90" r="3.9" fill="none" stroke="#4a5af2" stroke-width="1.2"/>
<circle cx="166.40" cy="380.70" r="3.9" fill="none" stroke="#4a5af2" stroke-width="1.2"/>
<circle cx="177.60" cy="361.20" r="3.9" fill="none" stroke="#4a5af2" stroke-width="1.2"/>
<circle cx="191.50" cy="339.50" r="3.9" fill="none" stroke="#4a5af2" stroke-width="1.2"/>
<circle cx="199.60" cy="325.40" r="3.9" fill="none" stroke="#4a5af2" stroke-width="1.2"/>
<path d="M95.3,480.8 Q97,473 101.5,464" fill="none" stroke="#4a5af2" stroke-width="8" stroke-linecap="round" opacity="0.9"/>
<line x1="342.00" y1="305.5" x2="342.00" y2="545.40" stroke="#6474f2" stroke-width="1.6"/>
<line x1="342.00" y1="525.70" x2="345.5" y2="525.70" stroke="#5565f0" stroke-width="1.3"/>
<line x1="342.00" y1="493.45" x2="345.5" y2="493.45" stroke="#5565f0" stroke-width="1.3"/>
<line x1="342.00" y1="461.20" x2="345.5" y2="461.20" stroke="#5565f0" stroke-width="1.3"/>
<line x1="342.00" y1="428.95" x2="345.5" y2="428.95" stroke="#5565f0" stroke-width="1.3"/>
<line x1="342.00" y1="396.70" x2="345.5" y2="396.70" stroke="#5565f0" stroke-width="1.3"/>
<line x1="342.00" y1="364.45" x2="345.5" y2="364.45" stroke="#5565f0" stroke-width="1.3"/>
<line x1="342.00" y1="332.20" x2="345.5" y2="332.20" stroke="#5565f0" stroke-width="1.3"/>
<line x1="342.00" y1="541.82" x2="343.8" y2="541.82" stroke="#5565f0" stroke-width="1.1"/>
<line x1="342.00" y1="509.57" x2="343.8" y2="509.57" stroke="#5565f0" stroke-width="1.1"/>
<line x1="342.00" y1="477.32" x2="343.8" y2="477.32" stroke="#5565f0" stroke-width="1.1"/>
<line x1="342.00" y1="445.07" x2="343.8" y2="445.07" stroke="#5565f0" stroke-width="1.1"/>
<line x1="342.00" y1="412.82" x2="343.8" y2="412.82" stroke="#5565f0" stroke-width="1.1"/>
<line x1="342.00" y1="380.57" x2="343.8" y2="380.57" stroke="#5565f0" stroke-width="1.1"/>
<line x1="342.00" y1="348.32" x2="343.8" y2="348.32" stroke="#5565f0" stroke-width="1.1"/>
<line x1="341.5" y1="545.40" x2="562" y2="545.40" stroke="#6474f2" stroke-width="1.8"/>
<line x1="360.60" y1="545.40" x2="360.60" y2="540.8" stroke="#5565f0" stroke-width="1.3"/>
<line x1="379.30" y1="545.40" x2="379.30" y2="543.2" stroke="#5565f0" stroke-width="1.1"/>
<line x1="398.05" y1="545.40" x2="398.05" y2="540.8" stroke="#5565f0" stroke-width="1.3"/>
<line x1="416.75" y1="545.40" x2="416.75" y2="543.2" stroke="#5565f0" stroke-width="1.1"/>
<line x1="435.50" y1="545.40" x2="435.50" y2="540.8" stroke="#5565f0" stroke-width="1.3"/>
<line x1="454.20" y1="545.40" x2="454.20" y2="543.2" stroke="#5565f0" stroke-width="1.1"/>
<line x1="472.95" y1="545.40" x2="472.95" y2="540.8" stroke="#5565f0" stroke-width="1.3"/>
<line x1="491.65" y1="545.40" x2="491.65" y2="543.2" stroke="#5565f0" stroke-width="1.1"/>
<line x1="510.40" y1="545.40" x2="510.40" y2="540.8" stroke="#5565f0" stroke-width="1.3"/>
<line x1="529.10" y1="545.40" x2="529.10" y2="543.2" stroke="#5565f0" stroke-width="1.1"/>
<line x1="547.85" y1="545.40" x2="547.85" y2="540.8" stroke="#5565f0" stroke-width="1.3"/>
<line x1="341.90" y1="545.40" x2="341.90" y2="543.2" stroke="#5565f0" stroke-width="1.1"/>
<text x="316.60" y="529.70" font-size="11.30" font-weight="bold" font-family='"Liberation Sans", sans-serif' fill="#ff1040" textLength="21.00" lengthAdjust="spacingAndGlyphs">0.0000</text>
<text x="310.00" y="497.25" font-size="11.30" font-weight="bold" font-family='"Liberation Sans", sans-serif' fill="#ff1040" textLength="27.80" lengthAdjust="spacingAndGlyphs">2.0000 μ</text>
<text x="310.00" y="465.00" font-size="11.30" font-weight="bold" font-family='"Liberation Sans", sans-serif' fill="#ff1040" textLength="27.80" lengthAdjust="spacingAndGlyphs">4.0000 μ</text>
<text x="310.00" y="432.75" font-size="11.30" font-weight="bold" font-family='"Liberation Sans", sans-serif' fill="#ff1040" textLength="27.80" lengthAdjust="spacingAndGlyphs">6.0000 μ</text>
<text x="310.00" y="400.50" font-size="11.30" font-weight="bold" font-family='"Liberation Sans", sans-serif' fill="#ff1040" textLength="27.80" lengthAdjust="spacingAndGlyphs">8.0000 μ</text>
<text x="310.00" y="368.25" font-size="11.30" font-weight="bold" font-family='"Liberation Sans", sans-serif' fill="#ff1040" textLength="27.80" lengthAdjust="spacingAndGlyphs">10.000 μ</text>
<text x="310.00" y="336.00" font-size="11.30" font-weight="bold" font-family='"Liberation Sans", sans-serif' fill="#ff1040" textLength="27.80" lengthAdjust="spacingAndGlyphs">12.000 μ</text>
<text x="358.60" y="558.00" font-size="10.80" font-weight="bold" font-family='"Liberation Sans", sans-serif' fill="#ff1040" textLength="4.40" lengthAdjust="spacingAndGlyphs">0</text>
<text x="392.25" y="558.00" font-size="10.80" font-weight="bold" font-family='"Liberation Sans", sans-serif' fill="#ff1040" textLength="11.80" lengthAdjust="spacingAndGlyphs">-0.2</text>
<text x="429.70" y="558.00" font-size="10.80" font-weight="bold" font-family='"Liberation Sans", sans-serif' fill="#ff1040" textLength="11.80" lengthAdjust="spacingAndGlyphs">-0.4</text>
<text x="467.15" y="558.00" font-size="10.80" font-weight="bold" font-family='"Liberation Sans", sans-serif' fill="#ff1040" textLength="11.80" lengthAdjust="spacingAndGlyphs">-0.6</text>
<text x="504.60" y="558.00" font-size="10.80" font-weight="bold" font-family='"Liberation Sans", sans-serif' fill="#ff1040" textLength="11.80" lengthAdjust="spacingAndGlyphs">-0.8</text>
<text x="543.65" y="558.00" font-size="10.80" font-weight="bold" font-family='"Liberation Sans", sans-serif' fill="#ff1040" textLength="6.60" lengthAdjust="spacingAndGlyphs">-1</text>
<text x="414.80" y="569.60" font-size="11.80" font-weight="bold" font-family='"Liberation Sans", sans-serif' fill="#2f45e6" textLength="75.60" lengthAdjust="spacingAndGlyphs">Potential applied (V)</text>
<text transform="translate(305.20,451.40) rotate(-90)" x="0" y="0" font-size="9.90" font-weight="bold" font-family='"Liberation Sans", sans-serif' fill="#2f45e6" stroke="#2f45e6" stroke-width="0.50" textLength="57.50" lengthAdjust="spacingAndGlyphs">Current (A)</text>
<rect x="351.60" y="311.90" width="29.40" height="29.10" fill="#fff" stroke="#161628" stroke-width="1.35"/>
<text x="360.80" y="330.40" font-size="12.00" font-weight="normal" font-family='"Liberation Sans", sans-serif' fill="#161616" textLength="8.80" lengthAdjust="spacingAndGlyphs" stroke="#161616" stroke-width="0.30">D</text>
<g fill="none" stroke-linejoin="round" stroke-linecap="round">
<path d="M361.00,515.60 C368.40,515.60 375.89,515.72 383.20,515.60 C390.35,515.48 398.06,515.32 404.40,514.90 C409.58,514.56 414.24,514.17 418.50,513.50 C422.08,512.94 425.37,512.24 428.30,511.40 C430.77,510.70 432.97,510.15 435.00,509.00 C437.03,507.85 438.88,506.23 440.50,504.50 C442.15,502.74 443.32,501.00 444.80,498.50 C446.94,494.88 449.46,489.89 451.50,484.50 C454.08,477.66 456.26,467.09 458.30,460.50 C459.75,455.82 460.86,451.34 462.30,448.60 C463.16,446.96 464.04,445.69 465.00,445.00 C465.67,444.52 466.36,444.22 467.10,444.30 C468.01,444.40 468.96,445.21 470.00,446.00 C471.48,447.13 473.20,448.79 474.90,450.80 C477.24,453.56 478.94,458.50 482.30,461.40 C486.10,464.68 492.35,466.44 497.10,468.80 C501.49,470.99 505.32,473.30 509.80,475.10 C514.50,476.99 520.12,479.18 524.70,479.80 C528.46,480.31 531.64,480.32 535.20,479.40 C539.35,478.33 543.67,475.13 547.90,473.00" stroke="#ecf8a0" stroke-width="3.2" opacity="0.35"/>
<path d="M361.00,515.60 C368.40,515.60 375.89,515.72 383.20,515.60 C390.35,515.48 398.06,515.32 404.40,514.90 C409.58,514.56 414.24,514.17 418.50,513.50 C422.08,512.94 425.37,512.24 428.30,511.40 C430.77,510.70 432.97,510.15 435.00,509.00 C437.03,507.85 438.88,506.23 440.50,504.50 C442.15,502.74 443.32,501.00 444.80,498.50 C446.94,494.88 449.46,489.89 451.50,484.50 C454.08,477.66 456.26,467.09 458.30,460.50 C459.75,455.82 460.86,451.34 462.30,448.60 C463.16,446.96 464.04,445.69 465.00,445.00 C465.67,444.52 466.36,444.22 467.10,444.30 C468.01,444.40 468.96,445.21 470.00,446.00 C471.48,447.13 473.20,448.79 474.90,450.80 C477.24,453.56 478.94,458.50 482.30,461.40 C486.10,464.68 492.35,466.44 497.10,468.80 C501.49,470.99 505.32,473.30 509.80,475.10 C514.50,476.99 520.12,479.18 524.70,479.80 C528.46,480.31 531.64,480.32 535.20,479.40 C539.35,478.33 543.67,475.13 547.90,473.00" stroke="#1ec41e" stroke-width="2.3"/>
<path d="M361.00,513.20 C361.83,512.60 362.17,511.87 363.50,511.40 C366.87,510.20 376.52,510.72 383.20,510.20 C390.14,509.66 398.07,509.15 404.40,508.20 C409.60,507.42 414.27,506.54 418.50,505.30 C422.11,504.24 425.44,503.08 428.30,501.50 C430.85,500.09 433.07,498.33 435.00,496.50 C436.79,494.81 438.16,493.40 439.60,491.00 C441.70,487.50 443.69,481.84 445.30,476.90 C446.99,471.70 448.20,466.30 449.40,460.50 C450.73,454.07 451.81,447.23 452.80,440.00 C453.91,431.95 454.73,422.51 455.60,414.40 C456.39,407.05 457.03,400.75 457.80,393.40 C458.65,385.29 459.52,376.35 460.50,367.80 C461.49,359.21 462.54,348.58 463.70,342.00 C464.43,337.87 464.91,334.17 466.00,332.00 C466.63,330.75 467.47,329.38 468.20,329.40 C468.97,329.42 469.86,331.09 470.50,332.50 C471.53,334.76 471.78,338.44 472.60,342.20 C473.74,347.44 475.14,354.38 476.70,361.00 C478.46,368.48 480.21,378.07 482.70,384.80 C484.66,390.11 486.92,393.79 489.50,398.50 C492.38,403.75 496.03,409.12 499.30,414.80 C502.80,420.88 506.46,427.95 509.80,433.90 C512.76,439.16 515.03,444.23 518.30,448.70 C521.43,452.99 525.04,457.61 528.90,460.30 C532.19,462.59 536.11,463.81 539.50,464.60 C542.41,465.28 545.10,465.00 547.90,465.20" stroke="#ff1a36" stroke-width="2.3"/>
<path d="M360.90,505.00 C361.00,501.67 361.05,498.33 361.20,495.00 C361.35,491.67 361.10,486.81 361.80,485.00 C362.10,484.21 362.45,483.62 363.00,483.50 C363.73,483.34 364.70,484.60 366.00,485.00 C368.11,485.65 371.25,486.38 374.70,486.20 C379.91,485.93 387.79,482.97 394.10,481.40 C400.11,479.91 406.91,478.09 411.70,477.00 C414.97,476.26 416.94,476.26 420.00,475.30 C424.06,474.03 430.13,471.95 433.70,469.40 C436.64,467.30 438.71,464.84 440.50,461.90 C442.42,458.74 443.54,454.60 444.60,450.90 C445.63,447.30 446.18,443.90 446.80,440.00 C447.51,435.55 447.90,430.71 448.50,425.60 C449.19,419.80 449.84,412.83 450.70,407.00 C451.47,401.77 452.30,396.73 453.30,392.20 C454.17,388.30 455.27,384.52 456.20,381.40 C456.92,378.98 457.51,376.58 458.30,375.00 C458.83,373.96 459.37,372.69 460.00,372.60 C460.55,372.52 461.25,373.31 461.80,374.00 C462.61,375.02 463.19,376.56 463.90,378.50 C465.08,381.76 466.33,387.03 467.50,392.00 C468.92,398.04 470.32,406.24 471.60,412.20 C472.62,416.96 473.26,420.89 474.50,425.00 C475.71,428.98 477.07,433.41 478.90,436.50 C480.37,438.97 481.85,440.87 484.00,442.50 C486.40,444.32 489.47,445.64 492.90,446.60 C497.13,447.78 503.18,448.28 507.70,448.30 C511.53,448.32 514.69,448.20 518.30,447.20 C522.44,446.06 527.72,443.95 531.00,441.30 C533.86,438.99 535.38,435.94 537.40,432.80 C539.65,429.31 541.88,424.92 543.70,421.20 C545.32,417.88 546.50,414.80 547.90,411.60" stroke="#2a3cf2" stroke-width="2.4"/>
</g>
</svg></body></html>
